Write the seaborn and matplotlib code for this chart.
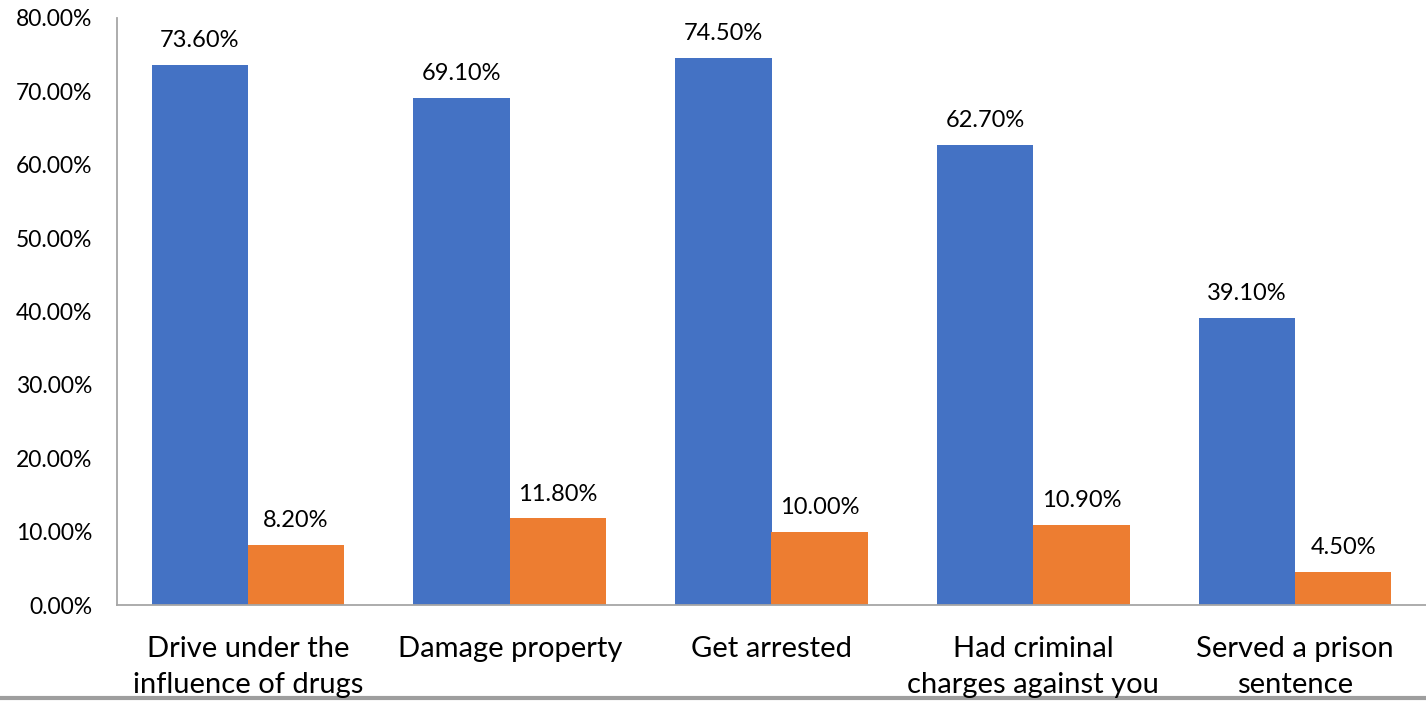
import matplotlib
matplotlib.use("Agg")
import matplotlib.pyplot as plt
import seaborn as sns
import pandas as pd
from matplotlib.lines import Line2D

categories = ["Drive under the\ninfluence of drugs", "Damage property", "Get arrested",
              "Had criminal\ncharges against you", "Served a prison\nsentence"]
series_names = ["Series 1", "Series 2"]
series1 = [73.6, 69.1, 74.5, 62.7, 39.1]
series2 = [8.2, 11.8, 10.0, 10.9, 4.5]
yticks = [0, 10, 20, 30, 40, 50, 60, 70, 80]
colors = ["#4472C4", "#ED7D31"]

df = pd.DataFrame({
    "category": categories * 2,
    "series": [series_names[0]] * 5 + [series_names[1]] * 5,
    "value": series1 + series2,
})

sns.set_theme(style="white")
plt.rcParams["font.family"] = ["Lato", "DejaVu Sans"]

fig = plt.figure(figsize=(14.26, 7.02), dpi=100)
ax = fig.add_axes([117 / 1426, 97 / 702, 1 - 117 / 1426, (605 - 18) / 702])

sns.barplot(data=df, x="category", y="value", hue="series", palette=colors,
            width=0.735, gap=0, ax=ax, legend=False, saturation=1, errorbar=None,
            linewidth=0, edgecolor="none")

for cont in ax.containers:
    ax.bar_label(cont, labels=[f"{v:.2f}%" for v in cont.datavalues],
                 padding=10, fontsize=17, color="black")

ax.set_ylim(0, 80)
ax.set_xlim(-0.5, 4.5)
ax.set_yticks(yticks)
ax.set_yticklabels([f"{t:.2f}%" for t in yticks], fontsize=16.5, color="black")
ax.tick_params(axis="y", length=0, pad=18)
ax.tick_params(axis="x", length=0, pad=22, labelsize=21, labelcolor="black")
for lbl in ax.get_xticklabels():
    lbl.set_linespacing(1.5)
ax.set_xlabel("")
ax.set_ylabel("")
for s in ["top", "right"]:
    ax.spines[s].set_visible(False)
for s in ["left", "bottom"]:
    ax.spines[s].set_color("#A6A6A6")
    ax.spines[s].set_linewidth(1.3)

fig.add_artist(Line2D([0, 1], [4.5 / 702, 4.5 / 702], transform=fig.transFigure,
                      color="#9E9E9E", linewidth=3, zorder=0))

fig.savefig("out.png", dpi=100)
